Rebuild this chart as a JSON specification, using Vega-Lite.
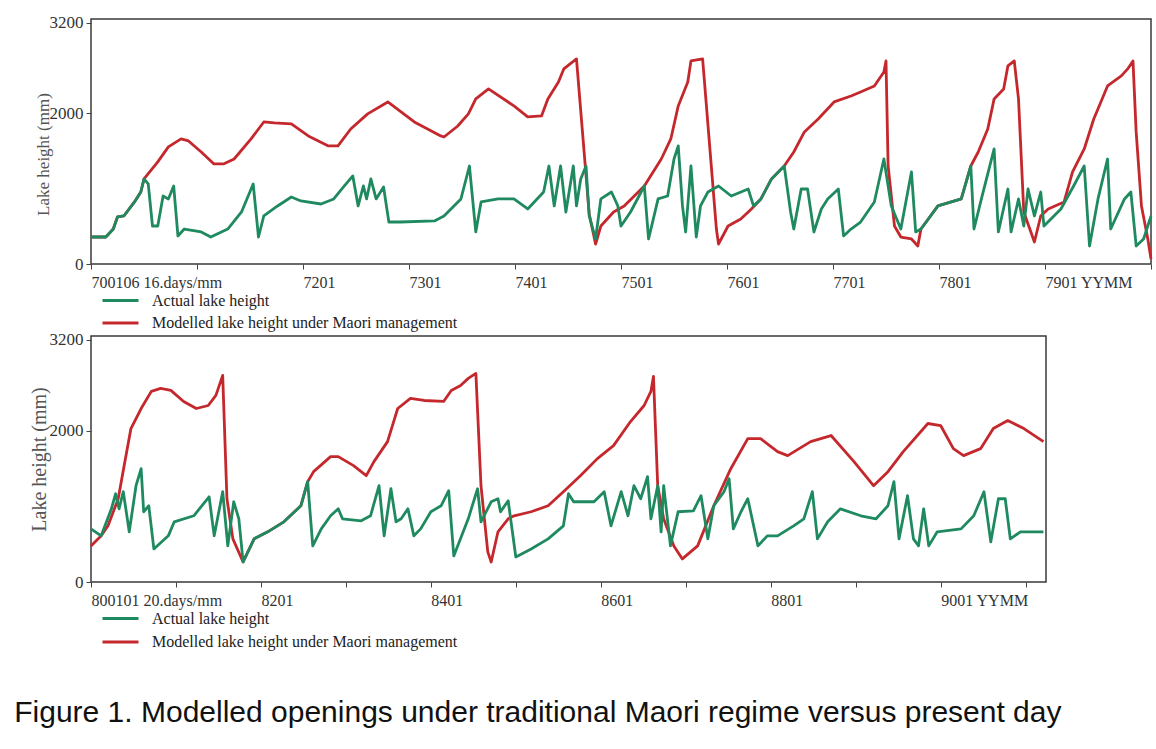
{
  "$schema": "https://vega.github.io/schema/vega-lite/v6.json",
  "background": "white",
  "padding": {"left": 14, "top": 13, "right": 4, "bottom": 4},
  "config": {
    "view": {"stroke": "#3a3a3a", "strokeWidth": 1.5},
    "axis": {"labelFont": "Liberation Serif", "titleFont": "Liberation Serif", "labelFontSize": 16, "labelColor": "#333", "titleColor": "#555", "titleFontWeight": "normal", "grid": false, "domain": false, "tickColor": "#444", "tickSize": 5, "labelOverlap": false, "labelFlush": false, "labelBound": false},
    "legend": {"title": null, "orient": "none", "symbolType": "M-1.5,0H1.5", "symbolSize": 576, "symbolStrokeWidth": 5, "labelFont": "Liberation Serif", "labelFontSize": 16, "labelColor": "#222", "labelOffset": 18, "labelLimit": 0, "rowPadding": 1.5, "direction": "vertical"},
    "line": {"strokeWidth": 2.8, "strokeJoin": "round"}
  },
  "title": {"text": "Figure 1. Modelled openings under traditional Maori regime versus present day", "orient": "bottom", "anchor": "start", "font": "Liberation Sans", "fontSize": 30, "fontWeight": "normal", "color": "#111", "offset": 47, "dx": -14},
  "spacing": 72,
  "bounds": "flush",
  "resolve": {"scale": {"color": "independent", "x": "independent", "y": "independent"}, "legend": {"color": "independent"}},
  "datasets": {
    "top": [
      {"series": "Modelled lake height under Maori management", "year": 1970.00, "mm": 358},
      {"series": "Modelled lake height under Maori management", "year": 1970.14, "mm": 358},
      {"series": "Modelled lake height under Maori management", "year": 1970.21, "mm": 464},
      {"series": "Modelled lake height under Maori management", "year": 1970.25, "mm": 624},
      {"series": "Modelled lake height under Maori management", "year": 1970.31, "mm": 637},
      {"series": "Modelled lake height under Maori management", "year": 1970.41, "mm": 823},
      {"series": "Modelled lake height under Maori management", "year": 1970.47, "mm": 955},
      {"series": "Modelled lake height under Maori management", "year": 1970.50, "mm": 1128},
      {"series": "Modelled lake height under Maori management", "year": 1970.63, "mm": 1354},
      {"series": "Modelled lake height under Maori management", "year": 1970.73, "mm": 1553},
      {"series": "Modelled lake height under Maori management", "year": 1970.85, "mm": 1659},
      {"series": "Modelled lake height under Maori management", "year": 1970.92, "mm": 1632},
      {"series": "Modelled lake height under Maori management", "year": 1971.04, "mm": 1486},
      {"series": "Modelled lake height under Maori management", "year": 1971.16, "mm": 1327},
      {"series": "Modelled lake height under Maori management", "year": 1971.25, "mm": 1327},
      {"series": "Modelled lake height under Maori management", "year": 1971.35, "mm": 1393},
      {"series": "Modelled lake height under Maori management", "year": 1971.51, "mm": 1659},
      {"series": "Modelled lake height under Maori management", "year": 1971.63, "mm": 1884},
      {"series": "Modelled lake height under Maori management", "year": 1971.73, "mm": 1871},
      {"series": "Modelled lake height under Maori management", "year": 1971.89, "mm": 1858},
      {"series": "Modelled lake height under Maori management", "year": 1972.05, "mm": 1699},
      {"series": "Modelled lake height under Maori management", "year": 1972.24, "mm": 1566},
      {"series": "Modelled lake height under Maori management", "year": 1972.33, "mm": 1566},
      {"series": "Modelled lake height under Maori management", "year": 1972.45, "mm": 1791},
      {"series": "Modelled lake height under Maori management", "year": 1972.61, "mm": 1991},
      {"series": "Modelled lake height under Maori management", "year": 1972.80, "mm": 2150},
      {"series": "Modelled lake height under Maori management", "year": 1973.05, "mm": 1884},
      {"series": "Modelled lake height under Maori management", "year": 1973.30, "mm": 1699},
      {"series": "Modelled lake height under Maori management", "year": 1973.33, "mm": 1685},
      {"series": "Modelled lake height under Maori management", "year": 1973.46, "mm": 1831},
      {"series": "Modelled lake height under Maori management", "year": 1973.56, "mm": 1991},
      {"series": "Modelled lake height under Maori management", "year": 1973.63, "mm": 2190},
      {"series": "Modelled lake height under Maori management", "year": 1973.75, "mm": 2322},
      {"series": "Modelled lake height under Maori management", "year": 1973.99, "mm": 2097},
      {"series": "Modelled lake height under Maori management", "year": 1974.12, "mm": 1951},
      {"series": "Modelled lake height under Maori management", "year": 1974.25, "mm": 1964},
      {"series": "Modelled lake height under Maori management", "year": 1974.31, "mm": 2190},
      {"series": "Modelled lake height under Maori management", "year": 1974.41, "mm": 2415},
      {"series": "Modelled lake height under Maori management", "year": 1974.46, "mm": 2588},
      {"series": "Modelled lake height under Maori management", "year": 1974.58, "mm": 2720},
      {"series": "Modelled lake height under Maori management", "year": 1974.70, "mm": 664},
      {"series": "Modelled lake height under Maori management", "year": 1974.76, "mm": 265},
      {"series": "Modelled lake height under Maori management", "year": 1974.81, "mm": 504},
      {"series": "Modelled lake height under Maori management", "year": 1974.93, "mm": 690},
      {"series": "Modelled lake height under Maori management", "year": 1975.03, "mm": 770},
      {"series": "Modelled lake height under Maori management", "year": 1975.22, "mm": 1035},
      {"series": "Modelled lake height under Maori management", "year": 1975.38, "mm": 1393},
      {"series": "Modelled lake height under Maori management", "year": 1975.47, "mm": 1659},
      {"series": "Modelled lake height under Maori management", "year": 1975.54, "mm": 2097},
      {"series": "Modelled lake height under Maori management", "year": 1975.63, "mm": 2415},
      {"series": "Modelled lake height under Maori management", "year": 1975.66, "mm": 2694},
      {"series": "Modelled lake height under Maori management", "year": 1975.77, "mm": 2720},
      {"series": "Modelled lake height under Maori management", "year": 1975.90, "mm": 464},
      {"series": "Modelled lake height under Maori management", "year": 1975.92, "mm": 265},
      {"series": "Modelled lake height under Maori management", "year": 1976.01, "mm": 504},
      {"series": "Modelled lake height under Maori management", "year": 1976.13, "mm": 597},
      {"series": "Modelled lake height under Maori management", "year": 1976.23, "mm": 730},
      {"series": "Modelled lake height under Maori management", "year": 1976.32, "mm": 863},
      {"series": "Modelled lake height under Maori management", "year": 1976.42, "mm": 1128},
      {"series": "Modelled lake height under Maori management", "year": 1976.54, "mm": 1300},
      {"series": "Modelled lake height under Maori management", "year": 1976.63, "mm": 1486},
      {"series": "Modelled lake height under Maori management", "year": 1976.73, "mm": 1752},
      {"series": "Modelled lake height under Maori management", "year": 1976.86, "mm": 1924},
      {"series": "Modelled lake height under Maori management", "year": 1977.01, "mm": 2150},
      {"series": "Modelled lake height under Maori management", "year": 1977.17, "mm": 2229},
      {"series": "Modelled lake height under Maori management", "year": 1977.26, "mm": 2282},
      {"series": "Modelled lake height under Maori management", "year": 1977.39, "mm": 2362},
      {"series": "Modelled lake height under Maori management", "year": 1977.48, "mm": 2548},
      {"series": "Modelled lake height under Maori management", "year": 1977.50, "mm": 2694},
      {"series": "Modelled lake height under Maori management", "year": 1977.52, "mm": 1300},
      {"series": "Modelled lake height under Maori management", "year": 1977.58, "mm": 504},
      {"series": "Modelled lake height under Maori management", "year": 1977.64, "mm": 358},
      {"series": "Modelled lake height under Maori management", "year": 1977.74, "mm": 332},
      {"series": "Modelled lake height under Maori management", "year": 1977.80, "mm": 239},
      {"series": "Modelled lake height under Maori management", "year": 1977.83, "mm": 464},
      {"series": "Modelled lake height under Maori management", "year": 1977.99, "mm": 770},
      {"series": "Modelled lake height under Maori management", "year": 1978.21, "mm": 863},
      {"series": "Modelled lake height under Maori management", "year": 1978.30, "mm": 1300},
      {"series": "Modelled lake height under Maori management", "year": 1978.37, "mm": 1486},
      {"series": "Modelled lake height under Maori management", "year": 1978.46, "mm": 1791},
      {"series": "Modelled lake height under Maori management", "year": 1978.52, "mm": 2190},
      {"series": "Modelled lake height under Maori management", "year": 1978.61, "mm": 2322},
      {"series": "Modelled lake height under Maori management", "year": 1978.65, "mm": 2627},
      {"series": "Modelled lake height under Maori management", "year": 1978.71, "mm": 2694},
      {"series": "Modelled lake height under Maori management", "year": 1978.75, "mm": 2190},
      {"series": "Modelled lake height under Maori management", "year": 1978.80, "mm": 690},
      {"series": "Modelled lake height under Maori management", "year": 1978.90, "mm": 292},
      {"series": "Modelled lake height under Maori management", "year": 1978.96, "mm": 637},
      {"series": "Modelled lake height under Maori management", "year": 1979.03, "mm": 730},
      {"series": "Modelled lake height under Maori management", "year": 1979.18, "mm": 823},
      {"series": "Modelled lake height under Maori management", "year": 1979.26, "mm": 1221},
      {"series": "Modelled lake height under Maori management", "year": 1979.37, "mm": 1526},
      {"series": "Modelled lake height under Maori management", "year": 1979.46, "mm": 1924},
      {"series": "Modelled lake height under Maori management", "year": 1979.59, "mm": 2362},
      {"series": "Modelled lake height under Maori management", "year": 1979.72, "mm": 2495},
      {"series": "Modelled lake height under Maori management", "year": 1979.78, "mm": 2588},
      {"series": "Modelled lake height under Maori management", "year": 1979.83, "mm": 2694},
      {"series": "Modelled lake height under Maori management", "year": 1979.86, "mm": 1752},
      {"series": "Modelled lake height under Maori management", "year": 1979.91, "mm": 770},
      {"series": "Modelled lake height under Maori management", "year": 1979.97, "mm": 332},
      {"series": "Modelled lake height under Maori management", "year": 1980.00, "mm": 66},
      {"series": "Actual lake height", "year": 1970.00, "mm": 358},
      {"series": "Actual lake height", "year": 1970.14, "mm": 358},
      {"series": "Actual lake height", "year": 1970.21, "mm": 464},
      {"series": "Actual lake height", "year": 1970.25, "mm": 624},
      {"series": "Actual lake height", "year": 1970.31, "mm": 637},
      {"series": "Actual lake height", "year": 1970.41, "mm": 823},
      {"series": "Actual lake height", "year": 1970.47, "mm": 955},
      {"series": "Actual lake height", "year": 1970.50, "mm": 1128},
      {"series": "Actual lake height", "year": 1970.54, "mm": 1062},
      {"series": "Actual lake height", "year": 1970.58, "mm": 504},
      {"series": "Actual lake height", "year": 1970.63, "mm": 504},
      {"series": "Actual lake height", "year": 1970.68, "mm": 902},
      {"series": "Actual lake height", "year": 1970.73, "mm": 863},
      {"series": "Actual lake height", "year": 1970.78, "mm": 1035},
      {"series": "Actual lake height", "year": 1970.82, "mm": 372},
      {"series": "Actual lake height", "year": 1970.88, "mm": 464},
      {"series": "Actual lake height", "year": 1971.04, "mm": 425},
      {"series": "Actual lake height", "year": 1971.13, "mm": 358},
      {"series": "Actual lake height", "year": 1971.29, "mm": 464},
      {"series": "Actual lake height", "year": 1971.42, "mm": 690},
      {"series": "Actual lake height", "year": 1971.53, "mm": 1062},
      {"series": "Actual lake height", "year": 1971.58, "mm": 358},
      {"series": "Actual lake height", "year": 1971.63, "mm": 637},
      {"series": "Actual lake height", "year": 1971.76, "mm": 770},
      {"series": "Actual lake height", "year": 1971.89, "mm": 889},
      {"series": "Actual lake height", "year": 1971.98, "mm": 836},
      {"series": "Actual lake height", "year": 1972.17, "mm": 796},
      {"series": "Actual lake height", "year": 1972.29, "mm": 863},
      {"series": "Actual lake height", "year": 1972.39, "mm": 1035},
      {"series": "Actual lake height", "year": 1972.47, "mm": 1168},
      {"series": "Actual lake height", "year": 1972.52, "mm": 770},
      {"series": "Actual lake height", "year": 1972.57, "mm": 1035},
      {"series": "Actual lake height", "year": 1972.60, "mm": 863},
      {"series": "Actual lake height", "year": 1972.64, "mm": 1128},
      {"series": "Actual lake height", "year": 1972.69, "mm": 863},
      {"series": "Actual lake height", "year": 1972.76, "mm": 1022},
      {"series": "Actual lake height", "year": 1972.81, "mm": 557},
      {"series": "Actual lake height", "year": 1972.92, "mm": 557},
      {"series": "Actual lake height", "year": 1973.24, "mm": 571},
      {"series": "Actual lake height", "year": 1973.33, "mm": 637},
      {"series": "Actual lake height", "year": 1973.49, "mm": 863},
      {"series": "Actual lake height", "year": 1973.57, "mm": 1300},
      {"series": "Actual lake height", "year": 1973.63, "mm": 425},
      {"series": "Actual lake height", "year": 1973.68, "mm": 823},
      {"series": "Actual lake height", "year": 1973.84, "mm": 863},
      {"series": "Actual lake height", "year": 1973.99, "mm": 863},
      {"series": "Actual lake height", "year": 1974.12, "mm": 730},
      {"series": "Actual lake height", "year": 1974.27, "mm": 955},
      {"series": "Actual lake height", "year": 1974.32, "mm": 1300},
      {"series": "Actual lake height", "year": 1974.37, "mm": 770},
      {"series": "Actual lake height", "year": 1974.43, "mm": 1300},
      {"series": "Actual lake height", "year": 1974.48, "mm": 690},
      {"series": "Actual lake height", "year": 1974.55, "mm": 1300},
      {"series": "Actual lake height", "year": 1974.58, "mm": 770},
      {"series": "Actual lake height", "year": 1974.62, "mm": 1128},
      {"series": "Actual lake height", "year": 1974.67, "mm": 1300},
      {"series": "Actual lake height", "year": 1974.70, "mm": 637},
      {"series": "Actual lake height", "year": 1974.76, "mm": 332},
      {"series": "Actual lake height", "year": 1974.81, "mm": 863},
      {"series": "Actual lake height", "year": 1974.91, "mm": 955},
      {"series": "Actual lake height", "year": 1974.97, "mm": 770},
      {"series": "Actual lake height", "year": 1975.00, "mm": 504},
      {"series": "Actual lake height", "year": 1975.09, "mm": 690},
      {"series": "Actual lake height", "year": 1975.22, "mm": 1035},
      {"series": "Actual lake height", "year": 1975.26, "mm": 332},
      {"series": "Actual lake height", "year": 1975.35, "mm": 863},
      {"series": "Actual lake height", "year": 1975.44, "mm": 902},
      {"series": "Actual lake height", "year": 1975.50, "mm": 1393},
      {"series": "Actual lake height", "year": 1975.54, "mm": 1566},
      {"series": "Actual lake height", "year": 1975.58, "mm": 770},
      {"series": "Actual lake height", "year": 1975.61, "mm": 425},
      {"series": "Actual lake height", "year": 1975.66, "mm": 1300},
      {"series": "Actual lake height", "year": 1975.71, "mm": 358},
      {"series": "Actual lake height", "year": 1975.75, "mm": 770},
      {"series": "Actual lake height", "year": 1975.82, "mm": 955},
      {"series": "Actual lake height", "year": 1975.92, "mm": 1035},
      {"series": "Actual lake height", "year": 1976.04, "mm": 902},
      {"series": "Actual lake height", "year": 1976.20, "mm": 995},
      {"series": "Actual lake height", "year": 1976.25, "mm": 770},
      {"series": "Actual lake height", "year": 1976.32, "mm": 863},
      {"series": "Actual lake height", "year": 1976.42, "mm": 1128},
      {"series": "Actual lake height", "year": 1976.54, "mm": 1300},
      {"series": "Actual lake height", "year": 1976.60, "mm": 690},
      {"series": "Actual lake height", "year": 1976.63, "mm": 464},
      {"series": "Actual lake height", "year": 1976.70, "mm": 995},
      {"series": "Actual lake height", "year": 1976.76, "mm": 995},
      {"series": "Actual lake height", "year": 1976.82, "mm": 425},
      {"series": "Actual lake height", "year": 1976.89, "mm": 730},
      {"series": "Actual lake height", "year": 1976.95, "mm": 863},
      {"series": "Actual lake height", "year": 1977.05, "mm": 995},
      {"series": "Actual lake height", "year": 1977.10, "mm": 372},
      {"series": "Actual lake height", "year": 1977.17, "mm": 464},
      {"series": "Actual lake height", "year": 1977.26, "mm": 557},
      {"series": "Actual lake height", "year": 1977.39, "mm": 823},
      {"series": "Actual lake height", "year": 1977.48, "mm": 1393},
      {"series": "Actual lake height", "year": 1977.55, "mm": 770},
      {"series": "Actual lake height", "year": 1977.64, "mm": 464},
      {"series": "Actual lake height", "year": 1977.74, "mm": 1221},
      {"series": "Actual lake height", "year": 1977.78, "mm": 425},
      {"series": "Actual lake height", "year": 1977.83, "mm": 464},
      {"series": "Actual lake height", "year": 1977.99, "mm": 770},
      {"series": "Actual lake height", "year": 1978.21, "mm": 863},
      {"series": "Actual lake height", "year": 1978.30, "mm": 1300},
      {"series": "Actual lake height", "year": 1978.33, "mm": 464},
      {"series": "Actual lake height", "year": 1978.40, "mm": 863},
      {"series": "Actual lake height", "year": 1978.52, "mm": 1526},
      {"series": "Actual lake height", "year": 1978.56, "mm": 425},
      {"series": "Actual lake height", "year": 1978.65, "mm": 995},
      {"series": "Actual lake height", "year": 1978.68, "mm": 425},
      {"series": "Actual lake height", "year": 1978.75, "mm": 863},
      {"series": "Actual lake height", "year": 1978.80, "mm": 504},
      {"series": "Actual lake height", "year": 1978.84, "mm": 995},
      {"series": "Actual lake height", "year": 1978.90, "mm": 637},
      {"series": "Actual lake height", "year": 1978.96, "mm": 955},
      {"series": "Actual lake height", "year": 1978.99, "mm": 504},
      {"series": "Actual lake height", "year": 1979.15, "mm": 730},
      {"series": "Actual lake height", "year": 1979.27, "mm": 1035},
      {"series": "Actual lake height", "year": 1979.37, "mm": 1300},
      {"series": "Actual lake height", "year": 1979.42, "mm": 239},
      {"series": "Actual lake height", "year": 1979.50, "mm": 863},
      {"series": "Actual lake height", "year": 1979.59, "mm": 1393},
      {"series": "Actual lake height", "year": 1979.62, "mm": 464},
      {"series": "Actual lake height", "year": 1979.75, "mm": 863},
      {"series": "Actual lake height", "year": 1979.81, "mm": 955},
      {"series": "Actual lake height", "year": 1979.86, "mm": 239},
      {"series": "Actual lake height", "year": 1979.93, "mm": 332},
      {"series": "Actual lake height", "year": 1980.00, "mm": 637}
    ],
    "bottom": [
      {"series": "Modelled lake height under Maori management", "year": 1980.00, "mm": 477},
      {"series": "Modelled lake height under Maori management", "year": 1980.12, "mm": 610},
      {"series": "Modelled lake height under Maori management", "year": 1980.20, "mm": 742},
      {"series": "Modelled lake height under Maori management", "year": 1980.32, "mm": 1100},
      {"series": "Modelled lake height under Maori management", "year": 1980.39, "mm": 1537},
      {"series": "Modelled lake height under Maori management", "year": 1980.47, "mm": 2027},
      {"series": "Modelled lake height under Maori management", "year": 1980.59, "mm": 2292},
      {"series": "Modelled lake height under Maori management", "year": 1980.71, "mm": 2518},
      {"series": "Modelled lake height under Maori management", "year": 1980.82, "mm": 2557},
      {"series": "Modelled lake height under Maori management", "year": 1980.94, "mm": 2531},
      {"series": "Modelled lake height under Maori management", "year": 1981.09, "mm": 2385},
      {"series": "Modelled lake height under Maori management", "year": 1981.24, "mm": 2292},
      {"series": "Modelled lake height under Maori management", "year": 1981.38, "mm": 2332},
      {"series": "Modelled lake height under Maori management", "year": 1981.47, "mm": 2465},
      {"series": "Modelled lake height under Maori management", "year": 1981.55, "mm": 2730},
      {"series": "Modelled lake height under Maori management", "year": 1981.60, "mm": 1100},
      {"series": "Modelled lake height under Maori management", "year": 1981.67, "mm": 570},
      {"series": "Modelled lake height under Maori management", "year": 1981.79, "mm": 265},
      {"series": "Modelled lake height under Maori management", "year": 1981.92, "mm": 570},
      {"series": "Modelled lake height under Maori management", "year": 1982.08, "mm": 663},
      {"series": "Modelled lake height under Maori management", "year": 1982.27, "mm": 795},
      {"series": "Modelled lake height under Maori management", "year": 1982.47, "mm": 1007},
      {"series": "Modelled lake height under Maori management", "year": 1982.55, "mm": 1325},
      {"series": "Modelled lake height under Maori management", "year": 1982.62, "mm": 1458},
      {"series": "Modelled lake height under Maori management", "year": 1982.82, "mm": 1656},
      {"series": "Modelled lake height under Maori management", "year": 1982.91, "mm": 1656},
      {"series": "Modelled lake height under Maori management", "year": 1983.09, "mm": 1537},
      {"series": "Modelled lake height under Maori management", "year": 1983.24, "mm": 1405},
      {"series": "Modelled lake height under Maori management", "year": 1983.33, "mm": 1590},
      {"series": "Modelled lake height under Maori management", "year": 1983.49, "mm": 1855},
      {"series": "Modelled lake height under Maori management", "year": 1983.61, "mm": 2292},
      {"series": "Modelled lake height under Maori management", "year": 1983.76, "mm": 2425},
      {"series": "Modelled lake height under Maori management", "year": 1983.92, "mm": 2398},
      {"series": "Modelled lake height under Maori management", "year": 1984.15, "mm": 2385},
      {"series": "Modelled lake height under Maori management", "year": 1984.24, "mm": 2531},
      {"series": "Modelled lake height under Maori management", "year": 1984.35, "mm": 2597},
      {"series": "Modelled lake height under Maori management", "year": 1984.44, "mm": 2690},
      {"series": "Modelled lake height under Maori management", "year": 1984.53, "mm": 2756},
      {"series": "Modelled lake height under Maori management", "year": 1984.59, "mm": 1272},
      {"series": "Modelled lake height under Maori management", "year": 1984.67, "mm": 398},
      {"series": "Modelled lake height under Maori management", "year": 1984.71, "mm": 265},
      {"series": "Modelled lake height under Maori management", "year": 1984.79, "mm": 663},
      {"series": "Modelled lake height under Maori management", "year": 1984.91, "mm": 835},
      {"series": "Modelled lake height under Maori management", "year": 1984.98, "mm": 875},
      {"series": "Modelled lake height under Maori management", "year": 1985.18, "mm": 928},
      {"series": "Modelled lake height under Maori management", "year": 1985.38, "mm": 1007},
      {"series": "Modelled lake height under Maori management", "year": 1985.56, "mm": 1193},
      {"series": "Modelled lake height under Maori management", "year": 1985.76, "mm": 1405},
      {"series": "Modelled lake height under Maori management", "year": 1985.96, "mm": 1630},
      {"series": "Modelled lake height under Maori management", "year": 1986.15, "mm": 1802},
      {"series": "Modelled lake height under Maori management", "year": 1986.35, "mm": 2120},
      {"series": "Modelled lake height under Maori management", "year": 1986.51, "mm": 2332},
      {"series": "Modelled lake height under Maori management", "year": 1986.59, "mm": 2518},
      {"series": "Modelled lake height under Maori management", "year": 1986.62, "mm": 2716},
      {"series": "Modelled lake height under Maori management", "year": 1986.67, "mm": 1272},
      {"series": "Modelled lake height under Maori management", "year": 1986.74, "mm": 835},
      {"series": "Modelled lake height under Maori management", "year": 1986.86, "mm": 477},
      {"series": "Modelled lake height under Maori management", "year": 1986.96, "mm": 305},
      {"series": "Modelled lake height under Maori management", "year": 1987.14, "mm": 477},
      {"series": "Modelled lake height under Maori management", "year": 1987.33, "mm": 1007},
      {"series": "Modelled lake height under Maori management", "year": 1987.53, "mm": 1497},
      {"series": "Modelled lake height under Maori management", "year": 1987.73, "mm": 1895},
      {"series": "Modelled lake height under Maori management", "year": 1987.88, "mm": 1895},
      {"series": "Modelled lake height under Maori management", "year": 1988.08, "mm": 1723},
      {"series": "Modelled lake height under Maori management", "year": 1988.20, "mm": 1670},
      {"series": "Modelled lake height under Maori management", "year": 1988.47, "mm": 1855},
      {"series": "Modelled lake height under Maori management", "year": 1988.71, "mm": 1935},
      {"series": "Modelled lake height under Maori management", "year": 1988.98, "mm": 1590},
      {"series": "Modelled lake height under Maori management", "year": 1989.21, "mm": 1272},
      {"series": "Modelled lake height under Maori management", "year": 1989.38, "mm": 1458},
      {"series": "Modelled lake height under Maori management", "year": 1989.56, "mm": 1723},
      {"series": "Modelled lake height under Maori management", "year": 1989.85, "mm": 2094},
      {"series": "Modelled lake height under Maori management", "year": 1990.00, "mm": 2067},
      {"series": "Modelled lake height under Maori management", "year": 1990.15, "mm": 1762},
      {"series": "Modelled lake height under Maori management", "year": 1990.27, "mm": 1670},
      {"series": "Modelled lake height under Maori management", "year": 1990.47, "mm": 1762},
      {"series": "Modelled lake height under Maori management", "year": 1990.62, "mm": 2027},
      {"series": "Modelled lake height under Maori management", "year": 1990.79, "mm": 2133},
      {"series": "Modelled lake height under Maori management", "year": 1990.98, "mm": 2027},
      {"series": "Modelled lake height under Maori management", "year": 1991.21, "mm": 1855},
      {"series": "Actual lake height", "year": 1980.00, "mm": 702},
      {"series": "Actual lake height", "year": 1980.12, "mm": 610},
      {"series": "Actual lake height", "year": 1980.24, "mm": 967},
      {"series": "Actual lake height", "year": 1980.29, "mm": 1166},
      {"series": "Actual lake height", "year": 1980.33, "mm": 967},
      {"series": "Actual lake height", "year": 1980.38, "mm": 1193},
      {"series": "Actual lake height", "year": 1980.45, "mm": 663},
      {"series": "Actual lake height", "year": 1980.53, "mm": 1272},
      {"series": "Actual lake height", "year": 1980.59, "mm": 1497},
      {"series": "Actual lake height", "year": 1980.62, "mm": 928},
      {"series": "Actual lake height", "year": 1980.68, "mm": 1007},
      {"series": "Actual lake height", "year": 1980.74, "mm": 437},
      {"series": "Actual lake height", "year": 1980.91, "mm": 610},
      {"series": "Actual lake height", "year": 1980.98, "mm": 795},
      {"series": "Actual lake height", "year": 1981.21, "mm": 875},
      {"series": "Actual lake height", "year": 1981.39, "mm": 1126},
      {"series": "Actual lake height", "year": 1981.45, "mm": 610},
      {"series": "Actual lake height", "year": 1981.55, "mm": 1193},
      {"series": "Actual lake height", "year": 1981.61, "mm": 477},
      {"series": "Actual lake height", "year": 1981.68, "mm": 1060},
      {"series": "Actual lake height", "year": 1981.74, "mm": 835},
      {"series": "Actual lake height", "year": 1981.79, "mm": 265},
      {"series": "Actual lake height", "year": 1981.92, "mm": 570},
      {"series": "Actual lake height", "year": 1982.08, "mm": 663},
      {"series": "Actual lake height", "year": 1982.27, "mm": 795},
      {"series": "Actual lake height", "year": 1982.47, "mm": 1007},
      {"series": "Actual lake height", "year": 1982.55, "mm": 1325},
      {"series": "Actual lake height", "year": 1982.61, "mm": 477},
      {"series": "Actual lake height", "year": 1982.71, "mm": 702},
      {"series": "Actual lake height", "year": 1982.82, "mm": 875},
      {"series": "Actual lake height", "year": 1982.91, "mm": 967},
      {"series": "Actual lake height", "year": 1982.96, "mm": 835},
      {"series": "Actual lake height", "year": 1983.18, "mm": 808},
      {"series": "Actual lake height", "year": 1983.29, "mm": 875},
      {"series": "Actual lake height", "year": 1983.39, "mm": 1272},
      {"series": "Actual lake height", "year": 1983.45, "mm": 610},
      {"series": "Actual lake height", "year": 1983.53, "mm": 1232},
      {"series": "Actual lake height", "year": 1983.59, "mm": 795},
      {"series": "Actual lake height", "year": 1983.65, "mm": 835},
      {"series": "Actual lake height", "year": 1983.73, "mm": 967},
      {"series": "Actual lake height", "year": 1983.80, "mm": 610},
      {"series": "Actual lake height", "year": 1983.88, "mm": 702},
      {"series": "Actual lake height", "year": 1984.00, "mm": 928},
      {"series": "Actual lake height", "year": 1984.12, "mm": 1007},
      {"series": "Actual lake height", "year": 1984.21, "mm": 1206},
      {"series": "Actual lake height", "year": 1984.27, "mm": 345},
      {"series": "Actual lake height", "year": 1984.44, "mm": 835},
      {"series": "Actual lake height", "year": 1984.55, "mm": 1232},
      {"series": "Actual lake height", "year": 1984.59, "mm": 795},
      {"series": "Actual lake height", "year": 1984.71, "mm": 1060},
      {"series": "Actual lake height", "year": 1984.79, "mm": 1100},
      {"series": "Actual lake height", "year": 1984.82, "mm": 928},
      {"series": "Actual lake height", "year": 1984.91, "mm": 1073},
      {"series": "Actual lake height", "year": 1985.00, "mm": 331},
      {"series": "Actual lake height", "year": 1985.18, "mm": 437},
      {"series": "Actual lake height", "year": 1985.38, "mm": 570},
      {"series": "Actual lake height", "year": 1985.56, "mm": 742},
      {"series": "Actual lake height", "year": 1985.62, "mm": 1166},
      {"series": "Actual lake height", "year": 1985.68, "mm": 1060},
      {"series": "Actual lake height", "year": 1985.92, "mm": 1060},
      {"series": "Actual lake height", "year": 1986.04, "mm": 1193},
      {"series": "Actual lake height", "year": 1986.12, "mm": 742},
      {"series": "Actual lake height", "year": 1986.24, "mm": 1193},
      {"series": "Actual lake height", "year": 1986.32, "mm": 875},
      {"series": "Actual lake height", "year": 1986.39, "mm": 1272},
      {"series": "Actual lake height", "year": 1986.47, "mm": 1100},
      {"series": "Actual lake height", "year": 1986.55, "mm": 1391},
      {"series": "Actual lake height", "year": 1986.59, "mm": 835},
      {"series": "Actual lake height", "year": 1986.67, "mm": 1272},
      {"series": "Actual lake height", "year": 1986.71, "mm": 663},
      {"series": "Actual lake height", "year": 1986.74, "mm": 1272},
      {"series": "Actual lake height", "year": 1986.82, "mm": 477},
      {"series": "Actual lake height", "year": 1986.91, "mm": 928},
      {"series": "Actual lake height", "year": 1987.09, "mm": 941},
      {"series": "Actual lake height", "year": 1987.18, "mm": 1140},
      {"series": "Actual lake height", "year": 1987.26, "mm": 570},
      {"series": "Actual lake height", "year": 1987.33, "mm": 1007},
      {"series": "Actual lake height", "year": 1987.45, "mm": 1193},
      {"series": "Actual lake height", "year": 1987.51, "mm": 1365},
      {"series": "Actual lake height", "year": 1987.56, "mm": 702},
      {"series": "Actual lake height", "year": 1987.65, "mm": 928},
      {"series": "Actual lake height", "year": 1987.73, "mm": 1100},
      {"series": "Actual lake height", "year": 1987.85, "mm": 477},
      {"series": "Actual lake height", "year": 1987.96, "mm": 610},
      {"series": "Actual lake height", "year": 1988.08, "mm": 610},
      {"series": "Actual lake height", "year": 1988.27, "mm": 742},
      {"series": "Actual lake height", "year": 1988.39, "mm": 835},
      {"series": "Actual lake height", "year": 1988.49, "mm": 1193},
      {"series": "Actual lake height", "year": 1988.55, "mm": 570},
      {"series": "Actual lake height", "year": 1988.67, "mm": 795},
      {"series": "Actual lake height", "year": 1988.82, "mm": 967},
      {"series": "Actual lake height", "year": 1989.06, "mm": 875},
      {"series": "Actual lake height", "year": 1989.24, "mm": 835},
      {"series": "Actual lake height", "year": 1989.38, "mm": 1007},
      {"series": "Actual lake height", "year": 1989.45, "mm": 1325},
      {"series": "Actual lake height", "year": 1989.51, "mm": 570},
      {"series": "Actual lake height", "year": 1989.61, "mm": 1140},
      {"series": "Actual lake height", "year": 1989.68, "mm": 570},
      {"series": "Actual lake height", "year": 1989.74, "mm": 477},
      {"series": "Actual lake height", "year": 1989.80, "mm": 967},
      {"series": "Actual lake height", "year": 1989.86, "mm": 477},
      {"series": "Actual lake height", "year": 1989.96, "mm": 663},
      {"series": "Actual lake height", "year": 1990.24, "mm": 702},
      {"series": "Actual lake height", "year": 1990.39, "mm": 875},
      {"series": "Actual lake height", "year": 1990.51, "mm": 1193},
      {"series": "Actual lake height", "year": 1990.59, "mm": 530},
      {"series": "Actual lake height", "year": 1990.68, "mm": 1100},
      {"series": "Actual lake height", "year": 1990.76, "mm": 1100},
      {"series": "Actual lake height", "year": 1990.82, "mm": 570},
      {"series": "Actual lake height", "year": 1990.94, "mm": 663},
      {"series": "Actual lake height", "year": 1991.21, "mm": 663}
    ]
  },
  "vconcat": [
    {
      "width": 1060,
      "height": 245,
      "data": {"name": "top"},
      "encoding": {
        "x": {"field": "year", "type": "quantitative", "scale": {"domain": [1970, 1980], "nice": false, "zero": false},
          "axis": {"title": null, "values": [1970, 1971, 1972, 1973, 1974, 1975, 1976, 1977, 1978, 1979, 1980], "labelAlign": "left", "labelPadding": 5,
            "labelExpr": "datum.value == 1970 ? '700106 16.days/mm' : (datum.value == 1971 || datum.value == 1980) ? '' : datum.value == 1979 ? '7901  YYMM' : format(datum.value % 100, '02d') + '01'"}},
        "y": {"field": "mm", "type": "quantitative", "scale": {"domain": [0, 3250], "nice": false, "zero": true},
          "axis": {"title": "Lake height (mm)", "values": [0, 2000, 3200], "format": "d", "labelFontSize": 17, "titleX": -48, "titleY": 135, "titleAlign": "center", "titleBaseline": "middle", "titleAngle": -90, "titleFontSize": 17, "labelPadding": 3}},
        "color": {"field": "series", "type": "nominal",
          "scale": {"domain": ["Actual lake height", "Modelled lake height under Maori management"], "range": ["#1f8a5f", "#c4282d"]},
          "legend": {"legendX": 16, "legendY": 268, "rowPadding": 0.5, "symbolStrokeWidth": 5, "labelLimit": 0}}
      },
      "layer": [
        {"transform": [{"filter": "datum.series == 'Modelled lake height under Maori management'"}], "mark": {"type": "line"}},
        {"transform": [{"filter": "datum.series == 'Actual lake height'"}], "mark": {"type": "line"}}
      ]
    },
    {
      "width": 955,
      "height": 246,
      "data": {"name": "bottom"},
      "encoding": {
        "x": {"field": "year", "type": "quantitative", "scale": {"domain": [1980, 1991.24], "nice": false, "zero": false},
          "axis": {"title": null, "values": [1980, 1981, 1982, 1983, 1984, 1985, 1986, 1987, 1988, 1989, 1990, 1991], "labelAlign": "left", "labelPadding": 5,
            "labelExpr": "datum.value == 1980 ? '800101 20.days/mm' : datum.value == 1990 ? '9001 YYMM' : (datum.value % 2 == 1) ? '' : format(datum.value % 100, '02d') + '01'"}},
        "y": {"field": "mm", "type": "quantitative", "scale": {"domain": [0, 3250], "nice": false, "zero": true},
          "axis": {"title": "Lake height (mm)", "values": [0, 2000, 3200], "format": "d", "labelFontSize": 17, "titleX": -52, "titleAlign": "center", "titleBaseline": "middle", "titleAngle": -90, "titleFontSize": 20, "labelPadding": 3}},
        "color": {"field": "series", "type": "nominal",
          "scale": {"domain": ["Actual lake height", "Modelled lake height under Maori management"], "range": ["#1f8a5f", "#c4282d"]},
          "legend": {"legendX": 16, "legendY": 269, "symbolStrokeWidth": 5, "labelLimit": 0}}
      },
      "layer": [
        {"transform": [{"filter": "datum.series == 'Modelled lake height under Maori management'"}], "mark": {"type": "line"}},
        {"transform": [{"filter": "datum.series == 'Actual lake height'"}], "mark": {"type": "line"}}
      ]
    }
  ]
}
